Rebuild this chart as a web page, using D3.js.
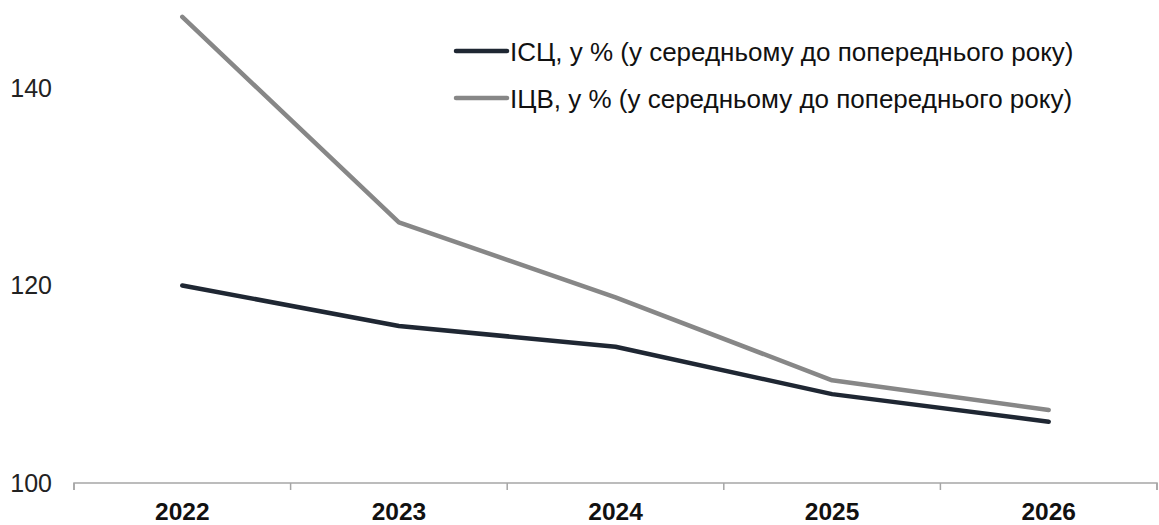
<!DOCTYPE html>
<html lang="uk">
<head>
<meta charset="UTF-8"/>
<title>ІСЦ та ІЦВ</title>
<script src="https://d3js.org/d3.v7.min.js"></script>
<style>
    body { margin: 0; background: #fff; }
    text { font-family: "Liberation Sans", Arial, sans-serif; }
</style>
</head>
<body>
<div id="chart"></div>
<script>
    var width = 1159;
    var height = 525;

    var years = ["2022", "2023", "2024", "2025", "2026"];
    var cpi = [120.0, 115.9, 113.8, 109.0, 106.2];
    var ppi = [147.2, 126.4, 118.8, 110.4, 107.4];
    var yTicks = [100, 120, 140];
    var seriesNames = [
        "ІСЦ, у % (у середньому до попереднього року)",
        "ІЦВ, у % (у середньому до попереднього року)"
    ];
    var colors = ["#1f2733", "#878787"];

    var xScale = d3.scaleBand().domain(years).range([74, 1157]);
    var yScale = d3.scaleLinear().domain([100, 140]).range([483, 88]);

    var svg = d3.select("#chart").append("svg")
        .attr("width", width).attr("height", height);

    // y axis labels only, no line
    var yAxis = d3.axisLeft(yScale).tickValues(yTicks).tickSize(0).tickPadding(0);
    var gy = svg.append("g").attr("transform", "translate(52,0)").call(yAxis);
    gy.select(".domain").remove();
    gy.selectAll("text").attr("font-size", 25).attr("fill", "#222")
        .style("font-family", "'Liberation Sans', Arial, sans-serif");

    // x axis with ticks between categories
    var xAxis = d3.axisBottom(xScale).tickSize(0).tickPadding(20);
    var gx = svg.append("g").attr("transform", "translate(0,483)").call(xAxis);
    gx.select(".domain").attr("stroke", "#a6a6a6").attr("stroke-width", 1.5)
        .attr("d", "M74,7V0H1157V7");
    gx.selectAll("text").attr("font-size", 24.5).attr("font-weight", "bold").attr("fill", "#111")
        .style("font-family", "'Liberation Sans', Arial, sans-serif");
    var bounds = years.map(function (d) { return xScale(d); }).concat([xScale.range()[1]]);
    gx.selectAll(".sep").data(bounds).enter().append("line")
        .attr("x1", function (d) { return d; }).attr("x2", function (d) { return d; })
        .attr("y1", 0).attr("y2", 7)
        .attr("stroke", "#a6a6a6").attr("stroke-width", 1.5);

    var line = d3.line()
        .x(function (d, i) { return xScale(years[i]) + xScale.bandwidth() / 2; })
        .y(function (d) { return yScale(d); });

    [ppi, cpi].forEach(function (s, k) {
        svg.append("path").datum(s)
            .attr("d", line)
            .attr("fill", "none")
            .attr("stroke", k === 0 ? colors[1] : colors[0])
            .attr("stroke-width", 4.5)
            .attr("stroke-linecap", "round")
            .attr("stroke-linejoin", "round");
    });

    // legend
    var legend = svg.append("g");
    seriesNames.forEach(function (name, i) {
        var y = 51 + i * 47;
        legend.append("line")
            .attr("x1", 456).attr("x2", 507).attr("y1", y).attr("y2", y)
            .attr("stroke", colors[i]).attr("stroke-width", 4.5)
            .attr("stroke-linecap", "round");
        legend.append("text")
            .attr("x", 510).attr("y", y + 10)
            .attr("font-size", 26).attr("fill", "#111")
            .text(name);
    });
</script>
</body>
</html>
